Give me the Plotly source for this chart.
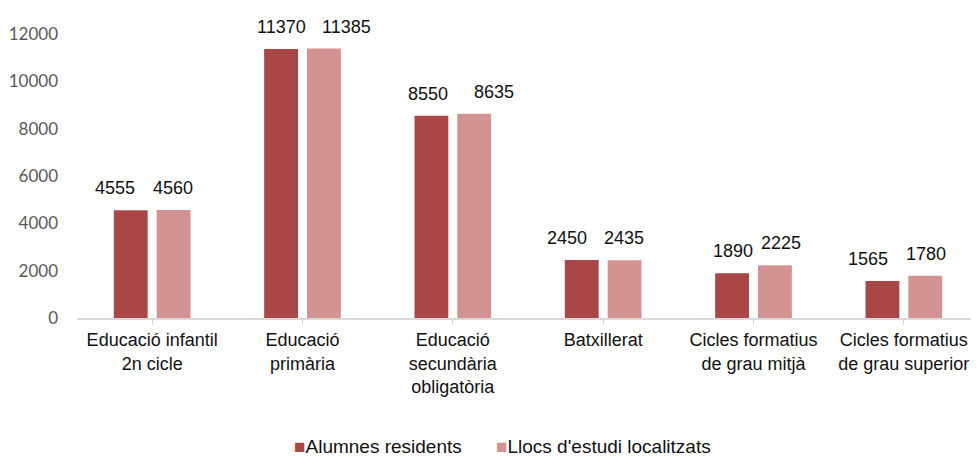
import plotly.graph_objects as go

categories = [
    "Educació infantil<br>2n cicle",
    "Educació<br>primària",
    "Educació<br>secundària<br>obligatòria",
    "Batxillerat",
    "Cicles formatius<br>de grau mitjà",
    "Cicles formatius<br>de grau superior",
]
alumnes_residents = [4555, 11370, 8550, 2450, 1890, 1565]
llocs_estudi = [4560, 11385, 8635, 2435, 2225, 1780]
series_names = ["Alumnes residents", "Llocs d'estudi localitzats"]
colors = ["#A94747", "#D49393"]
y_ticks = [0, 2000, 4000, 6000, 8000, 10000, 12000]
y_tick_labels = ["0", "2000", "4000", "6000", "8000", "10000", "12000"]

# style: horizontal nudges of the data labels (px), as in the reference
label_nudge = [[-16, 0, -3, -15, 1, -14], [-1, 22, 20, -1, 6, 1]]

FONT = "Liberation Sans, Arial, Helvetica"

fig = go.Figure()
for name, vals, col in zip(series_names, [alumnes_residents, llocs_estudi], colors):
    fig.add_trace(go.Bar(x=list(range(len(categories))), y=vals, name=name,
                         marker=dict(color=col, line=dict(width=0)), showlegend=False))

offs = [-0.143, 0.143]
for s, vals in enumerate([alumnes_residents, llocs_estudi]):
    for i, v in enumerate(vals):
        fig.add_annotation(x=i + offs[s], y=v, xref="x", yref="y", text=str(v),
                           showarrow=False, yanchor="middle", yshift=22,
                           xshift=label_nudge[s][i],
                           font=dict(family=FONT, size=18, color="#111111"))

# legend as text with coloured squares
leg_pos = [(0.428, "right"), (0.4634, "left")]
for name, col, (lx, anch) in zip(series_names, colors, leg_pos):
    fig.add_annotation(x=lx, y=-0.452, xref="paper", yref="paper", xanchor=anch,
                       yanchor="middle", showarrow=False, borderpad=0,
                       text=f"<span style='color:{col}'>■</span>{name}",
                       font=dict(family=FONT, size=19, color="#111111"))

fig.update_layout(
    width=971, height=451,
    margin=dict(l=69, r=0, t=26, b=141),
    paper_bgcolor="white", plot_bgcolor="white",
    barmode="group", bargap=0.43, bargroupgap=0.21,
    showlegend=False,
    xaxis=dict(
        tickmode="array", tickvals=list(range(len(categories))), ticktext=categories,
        range=[-0.5, 5.5], showgrid=False, zeroline=False,
        showline=True, linecolor="#d9d9d9", linewidth=1.5,
        ticks="outside", tickson="boundaries", ticklen=5, tickcolor="#d9d9d9",
        tickfont=dict(family=FONT, size=18, color="#111111"),
    ),
    yaxis=dict(
        range=[0, 12000], tickmode="array", tickvals=y_ticks, ticktext=y_tick_labels,
        showgrid=False, zeroline=False, showline=False,
        tickfont=dict(family="Lato", size=17, color="#595959"),
        ticklabelstandoff=18,
    ),
)

fig.write_html("out.html")
